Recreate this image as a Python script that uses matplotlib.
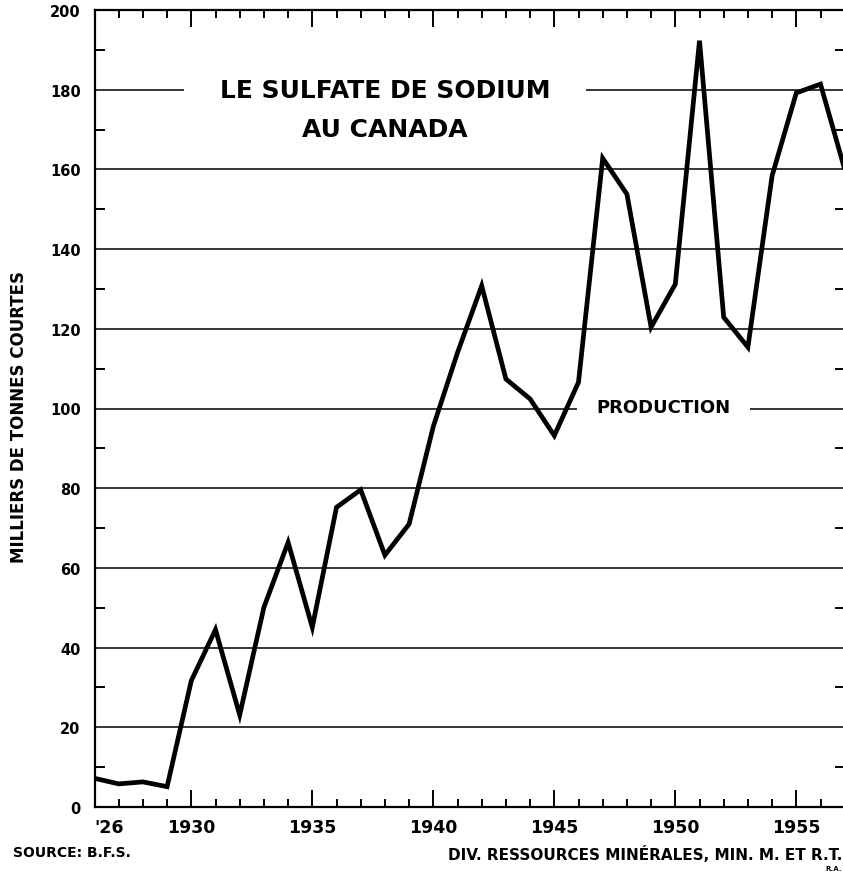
import matplotlib.pyplot as plt
from matplotlib.ticker import MultipleLocator, FixedLocator

# Canadian sodium sulphate production, thousands of short tons
years = list(range(1926, 1958))
production = [7.2, 5.8, 6.3, 5.1, 31.7, 44.5, 23.1, 50.1, 66.4, 45.1,
              75.2, 79.6, 63.2, 71.0, 95.5, 114.0, 130.8, 107.4, 102.4, 93.2,
              106.6, 162.8, 153.8, 120.4, 131.2, 192.3, 122.9, 115.4, 158.4, 179.2,
              181.4, 160.0]

x_ticks = [1926, 1930, 1935, 1940, 1945, 1950, 1955]
x_labels = ["'26", "1930", "1935", "1940", "1945", "1950", "1955"]
y_ticks = list(range(0, 201, 20))

fig = plt.figure(figsize=(8.43, 8.79), dpi=100)
ax = fig.add_axes([94.5 / 843, 71 / 879, (844.7 - 94.5) / 843, 797 / 879])

ax.plot(years, production, color='black', lw=3.4, solid_joinstyle='miter', zorder=3)

ax.set_xlim(1926, 1957)
ax.set_ylim(0, 200)

# axes frame: left, top and bottom drawn, right side falls off the sheet
for side in ['left', 'top', 'bottom']:
    ax.spines[side].set_linewidth(1.6)
ax.spines['right'].set_visible(False)

ax.xaxis.set_major_locator(FixedLocator(x_ticks))
ax.set_xticklabels(x_labels)
ax.xaxis.set_minor_locator(MultipleLocator(1))
ax.tick_params(axis='x', which='both', direction='in', top=True, bottom=True, width=1.4)
ax.tick_params(axis='x', which='major', length=12, pad=8, labelsize=12.5)
ax.tick_params(axis='x', which='minor', length=6)
for lab in ax.get_xticklabels():
    lab.set_fontweight('bold')
ax.get_xticklabels()[0].set_horizontalalignment('left')

ax.yaxis.set_major_locator(FixedLocator(y_ticks))
ax.yaxis.set_minor_locator(MultipleLocator(10))
ax.tick_params(axis='y', which='major', length=0, pad=10, labelsize=10.5)
ax.tick_params(axis='y', which='minor', direction='in', left=True, right=True,
               length=7, width=1.4)
for lab in ax.get_yticklabels():
    lab.set_fontweight('bold')

ax.set_axisbelow(True)
ax.yaxis.grid(True, color='black', lw=1.1)

ax.set_ylabel("MILLIERS DE TONNES COURTES", fontsize=12, fontweight='bold')
ax.yaxis.set_label_coords(-0.089, 0.49)

ax.text(1938.0, 180, "LE SULFATE DE SODIUM", ha='center', va='center',
        fontsize=18, fontweight='bold',
        bbox=dict(facecolor='white', edgecolor='none', pad=26), zorder=2)
ax.text(1938.0, 170.2, "AU CANADA", ha='center', va='center',
        fontsize=18, fontweight='bold', zorder=2)
ax.text(1949.5, 100.3, "PRODUCTION", ha='center', va='center', fontsize=13,
        fontweight='bold',
        bbox=dict(facecolor='white', edgecolor='none', pad=14), zorder=2)

fig.text(13 / 843, 1 - 853 / 879, "SOURCE: B.F.S.", ha='left', va='center',
         fontsize=10, fontweight='bold')
fig.text(842 / 843, 1 - 855 / 879, "DIV. RESSOURCES MINÉRALES, MIN. M. ET R.T.",
         ha='right', va='center', fontsize=11, fontweight='bold')
fig.text(842 / 843, 1 - 869 / 879, "R.A.", ha='right', va='center',
         fontsize=5, fontweight='bold')

fig.savefig('out.png', dpi=100)
